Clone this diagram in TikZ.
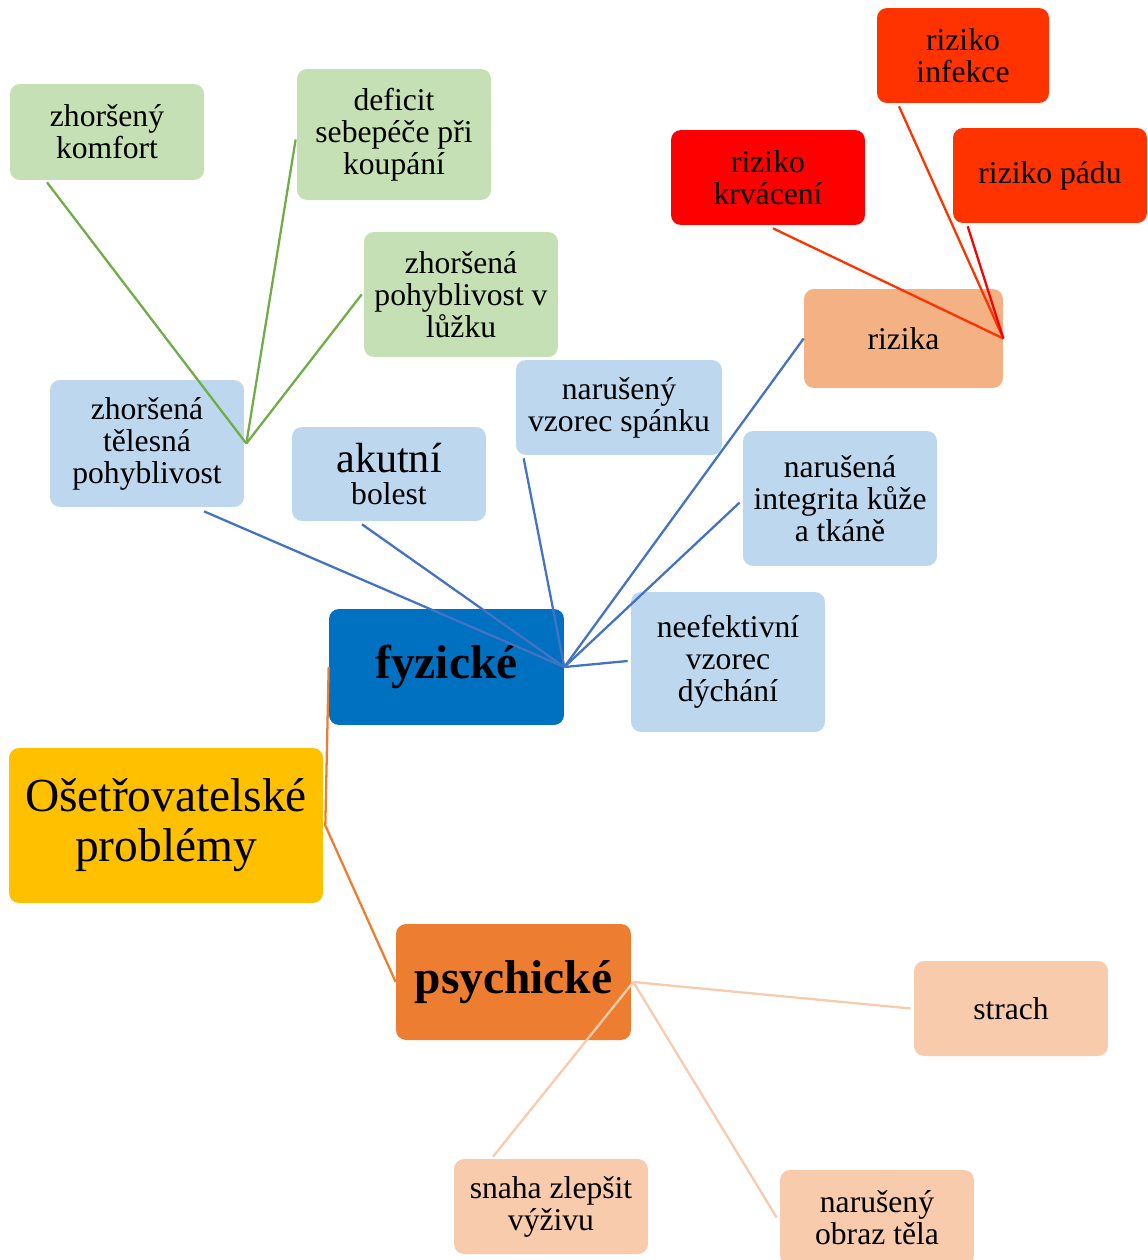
\documentclass[tikz,border=0pt]{standalone}
\usepackage{fontspec}
\setmainfont{Liberation Serif}
\usetikzlibrary{calc}

\definecolor{zelena}{HTML}{C5E0B4}
\definecolor{svmodra}{HTML}{BDD7EE}
\definecolor{modra}{HTML}{0070C0}
\definecolor{zluta}{HTML}{FFC000}
\definecolor{oranzova}{HTML}{ED7D31}
\definecolor{broskev}{HTML}{F4B183}
\definecolor{svbroskev}{HTML}{F8CBAD}
\definecolor{cervena}{HTML}{FF0000}
\definecolor{rudooranz}{HTML}{FF3300}
\definecolor{carmodra}{HTML}{4472C4}
\definecolor{carzelena}{HTML}{70AD47}

\begin{document}
\begin{tikzpicture}[x=0.02cm,y=-0.02cm,
  box/.style={rounded corners=0.2cm, align=center, inner sep=0pt,
    minimum width=3.88cm, minimum height=1.9cm,
    font=\fontsize{18}{18.2}\selectfont},
  zeleny/.style={box, fill=zelena},
  modry/.style={box, fill=svmodra},
  rizbox/.style={box, fill=rudooranz},
  psybox/.style={box, fill=svbroskev},
  hlavni/.style={box, minimum width=4.7cm, minimum height=2.32cm,
    font=\fontsize{27}{28.5}\selectfont\bfseries},
  spoj/.style={line width=1.3pt}]

\useasboundingbox (0,0) rectangle (1147,1260);

% koren
\node[box, fill=zluta, minimum width=6.28cm, minimum height=3.1cm,
  font=\fontsize{27}{28.5}\selectfont] (osp) at (166,825.5) {Ošetřovatelské\\problémy};

% hlavni vetve
\node[hlavni, fill=modra] (fyz) at (446.5,667) {fyzické};
\node[hlavni, fill=oranzova] (psy) at (513.5,982) {psychické};

% fyzicke
\node[modry, minimum height=2.54cm] (ztp) at (147,443.5) {zhoršená\\tělesná\\pohyblivost};
\node[modry, minimum height=1.88cm] (bol) at (389,474) {{\fontsize{24}{26}\selectfont akutní}\\bolest};
\node[modry, minimum width=4.12cm] (spanek) at (619,407.5) {narušený\\vzorec spánku};
\node[box, fill=broskev, minimum width=3.98cm, minimum height=1.98cm] (rizika) at (903.5,338.5) {rizika};
\node[modry, minimum height=2.7cm] (kuze) at (840,498.5) {narušená\\integrita kůže\\a tkáně};
\node[modry, minimum height=2.8cm] (dych) at (728,662) {neefektivní\\vzorec\\dýchání};

% pohyblivost
\node[zeleny, minimum height=1.92cm] (komf) at (107,132) {zhoršený\\komfort};
\node[zeleny, minimum height=2.62cm] (defic) at (394,134.5) {deficit\\sebepéče při\\koupání};
\node[zeleny, minimum height=2.5cm] (lozko) at (461,294.5) {zhoršená\\pohyblivost v\\lůžku};

% rizika
\node[box, fill=cervena] (krv) at (768,177.5) {riziko\\krvácení};
\node[rizbox, minimum width=3.44cm] (inf) at (963,55.5) {riziko\\infekce};
\node[rizbox] (pad) at (1050,175.5) {riziko pádu};

% psychicke
\node[psybox] (strach) at (1011,1008.5) {strach};
\node[psybox] (vyziva) at (551,1206.5) {snaha zlepšit\\výživu};
\node[psybox] (telo) at (877,1217.5) {narušený\\obraz těla};

% spojnice
\draw[spoj, oranzova] (fyz.west) -- ($(osp.east)+(2,0)$) -- (psy.west);

\draw[spoj, carmodra] (fyz.east) -- ($(ztp.south)+(57,4)$);
\draw[spoj, carmodra] (fyz.east) -- ($(bol.south)+(-27,3)$);
\draw[spoj, carmodra] (fyz.east) -- ($(spanek.south west)+(8,3)$);
\draw[spoj, carmodra] (fyz.east) -- (rizika.west);
\draw[spoj, carmodra] (fyz.east) -- ($(kuze.west)+(-3,4)$);
\draw[spoj, carmodra] (fyz.east) -- ($(dych.west)+(-3,-1)$);

\draw[spoj, carzelena] ($(ztp.east)+(2,0)$) -- ($(komf.south)+(-60,2)$);
\draw[spoj, carzelena] ($(ztp.east)+(2,0)$) -- ($(defic.west)+(-1,5)$);
\draw[spoj, carzelena] ($(ztp.east)+(2,0)$) -- ($(lozko.west)+(-2,0)$);

\draw[spoj, rudooranz] (rizika.east) -- ($(krv.south)+(5,3)$);
\draw[spoj, rudooranz] (rizika.east) -- ($(inf.south)+(-64,3)$);
\draw[spoj, cervena] (rizika.east) -- ($(pad.south west)+(15,3)$);

\draw[spoj, svbroskev] ($(psy.east)+(2,0)$) -- ($(strach.west)+(-3,0)$);
\draw[spoj, svbroskev] ($(psy.east)+(2,0)$) -- ($(vyziva.north)+(-58,-2)$);
\draw[spoj, svbroskev] ($(psy.east)+(2,0)$) -- ($(telo.west)+(-3,0)$);

\end{tikzpicture}
\end{document}
